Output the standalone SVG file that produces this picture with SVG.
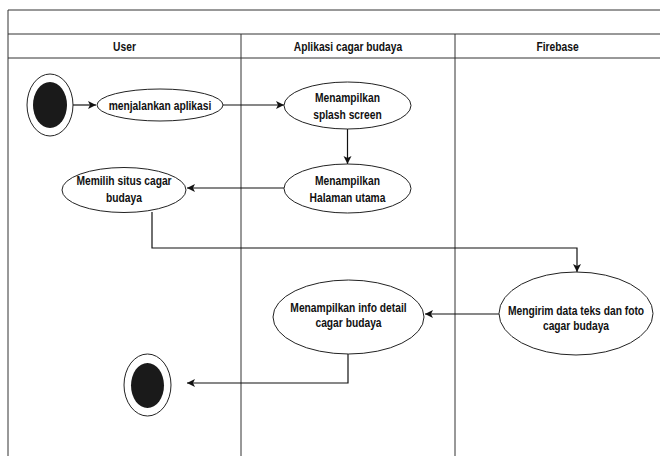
<svg xmlns="http://www.w3.org/2000/svg" width="660" height="456" viewBox="0 0 660 456">
<style>
.lane{fill:none;stroke:#333;stroke-width:1}
.node{fill:#fff;stroke:#222;stroke-width:1}
.dot{fill:#1a1a1a;stroke:none}
.conn{fill:none;stroke:#111;stroke-width:1.2}
text{font-family:"Liberation Sans",Arial,sans-serif;font-weight:bold;font-size:13px;fill:#111;text-anchor:middle}
</style>
<defs>
<marker id="arr" markerUnits="userSpaceOnUse" markerWidth="10" markerHeight="10" viewBox="0 0 10 10" refX="9" refY="5" orient="auto">
<path d="M1,1 L9,5 L1,9 L3,5 z" fill="#111"/>
</marker>
</defs>
<rect width="660" height="456" fill="#fff"/>
<g id="pool">
<path class="lane" d="M8,456 V10 H660 M8,34 H660 M8,58 H660 M241,34 V456 M455,34 V456"/>
<text transform="translate(124.5 51) scale(0.79 1)">User</text>
<text transform="translate(348 51) scale(0.79 1)">Aplikasi cagar budaya</text>
<text transform="translate(557.5 51) scale(0.79 1)">Firebase</text>
</g>
<g id="connectors">
<path class="conn" d="M73,105 H96" marker-end="url(#arr)"/>
<path class="conn" d="M223,105 H284" marker-end="url(#arr)"/>
<path class="conn" d="M347.5,129 V164" marker-end="url(#arr)"/>
<path class="conn" d="M284,188 H187" marker-end="url(#arr)"/>
<path class="conn" d="M152,212 V248 H577 V272" marker-end="url(#arr)"/>
<path class="conn" d="M499,314 H425" marker-end="url(#arr)"/>
<path class="conn" d="M348,354 V383 H187" marker-end="url(#arr)"/>
</g>
<g id="start">
<ellipse class="node" cx="50" cy="105" rx="23" ry="31"/>
<ellipse class="dot" cx="50" cy="105" rx="17" ry="23"/>
</g>
<g id="menjalankan">
<ellipse class="node" cx="160" cy="105" rx="63" ry="16"/>
<text transform="translate(160 109.5) scale(0.79 1)">menjalankan aplikasi</text>
</g>
<g id="splash">
<ellipse class="node" cx="347.5" cy="105.5" rx="63.5" ry="23.5"/>
<text transform="translate(347.5 101.5) scale(0.79 1)">Menampilkan</text>
<text transform="translate(347.5 118.5) scale(0.79 1)">splash screen</text>
</g>
<g id="halaman">
<ellipse class="node" cx="347.5" cy="188.5" rx="63.5" ry="24.5"/>
<text transform="translate(347.5 185) scale(0.79 1)">Menampilkan</text>
<text transform="translate(347.5 201.5) scale(0.79 1)">Halaman utama</text>
</g>
<g id="memilih">
<ellipse class="node" cx="124" cy="190" rx="62" ry="22.5"/>
<text transform="translate(124 185) scale(0.79 1)">Memilih situs cagar</text>
<text transform="translate(124 201.5) scale(0.79 1)">budaya</text>
</g>
<g id="mengirim">
<ellipse class="node" cx="576" cy="313.5" rx="77" ry="41.5"/>
<text transform="translate(576 314.5) scale(0.79 1)">Mengirim data teks dan foto</text>
<text transform="translate(576 329.5) scale(0.79 1)">cagar budaya</text>
</g>
<g id="info">
<ellipse class="node" cx="348.5" cy="317" rx="75.5" ry="37"/>
<text transform="translate(348.5 311.5) scale(0.79 1)">Menampilkan info detail</text>
<text transform="translate(348.5 326.5) scale(0.79 1)">cagar budaya</text>
</g>
<g id="end">
<ellipse class="node" cx="147.5" cy="385" rx="23.5" ry="31"/>
<ellipse class="dot" cx="147.5" cy="385.5" rx="16.5" ry="22.5"/>
</g>
</svg>
